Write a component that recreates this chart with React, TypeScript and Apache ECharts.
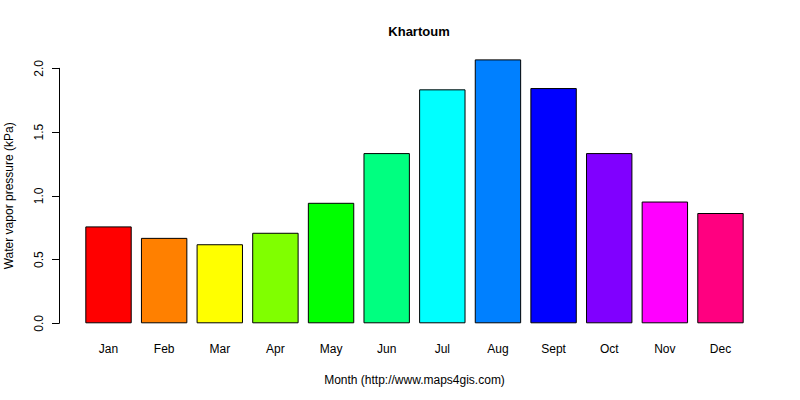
import { useEffect, useRef } from 'react';
import * as echarts from 'echarts';

const months = ['Jan', 'Feb', 'Mar', 'Apr', 'May', 'Jun', 'Jul', 'Aug', 'Sept', 'Oct', 'Nov', 'Dec'];
const vaporKPa = [0.76, 0.67, 0.62, 0.71, 0.945, 1.335, 1.835, 2.07, 1.845, 1.335, 0.955, 0.865];
const barColors = [
  '#FF0000', '#FF8000', '#FFFF00', '#80FF00', '#00FF00', '#00FF80',
  '#00FFFF', '#0080FF', '#0000FF', '#8000FF', '#FF00FF', '#FF0080',
];

const font = 'Liberation Sans, Arial, sans-serif';

export default function App() {
  const ref = useRef<HTMLDivElement | null>(null);
  useEffect(() => {
    if (!ref.current) return;
    const chart = echarts.init(ref.current, undefined, { renderer: 'svg' });
    chart.setOption({
      animation: false,
      backgroundColor: '#fff',
      textStyle: { fontFamily: font, color: '#000' },
      title: {
        text: 'Khartoum',
        left: 414,
        top: 20,
        textAlign: 'center',
        textStyle: { fontFamily: font, fontSize: 13, fontWeight: 'bold', color: '#000' },
      },
      grid: { left: 80.7, right: 51.7, top: 68.3, bottom: 76.7, containLabel: false, outerBoundsMode: 'none' },
      xAxis: {
        type: 'category',
        data: months,
        axisLine: { show: false },
        axisTick: { show: false },
        axisLabel: { color: '#000', fontSize: 12, margin: 20, fontFamily: font },
        name: 'Month (http://www.maps4gis.com)',
        nameLocation: 'middle',
        nameGap: 50.5,
        nameTextStyle: { color: '#000', fontSize: 12, fontFamily: font },
      },
      yAxis: {
        type: 'value',
        min: 0,
        max: 2,
        interval: 0.5,
        offset: 21.7,
        axisLine: { show: true, lineStyle: { color: '#000', width: 1 } },
        axisTick: { show: true, length: 7, lineStyle: { color: '#000' } },
        splitLine: { show: false },
        axisLabel: {
          color: '#000',
          fontSize: 12,
          rotate: 90,
          margin: 14,
          align: 'center',
          verticalAlign: 'bottom',
          fontFamily: font,
          formatter: (v: number) => v.toFixed(1),
        },
        name: 'Water vapor pressure (kPa)',
        nameLocation: 'middle',
        nameGap: 44,
        nameTextStyle: { color: '#000', fontSize: 12, fontFamily: font },
      },
      series: [
        {
          type: 'bar',
          clip: false,
          barWidth: 46.4,
          data: vaporKPa.map((v, i) => ({ value: v, itemStyle: { color: barColors[i] } })),
          itemStyle: { borderColor: '#000', borderWidth: 1 },
        },
      ],
    });
    return () => chart.dispose();
  }, []);
  return <div ref={ref} style={{ position: 'fixed', left: 0, top: 0, width: 800, height: 400 }} />;
}
